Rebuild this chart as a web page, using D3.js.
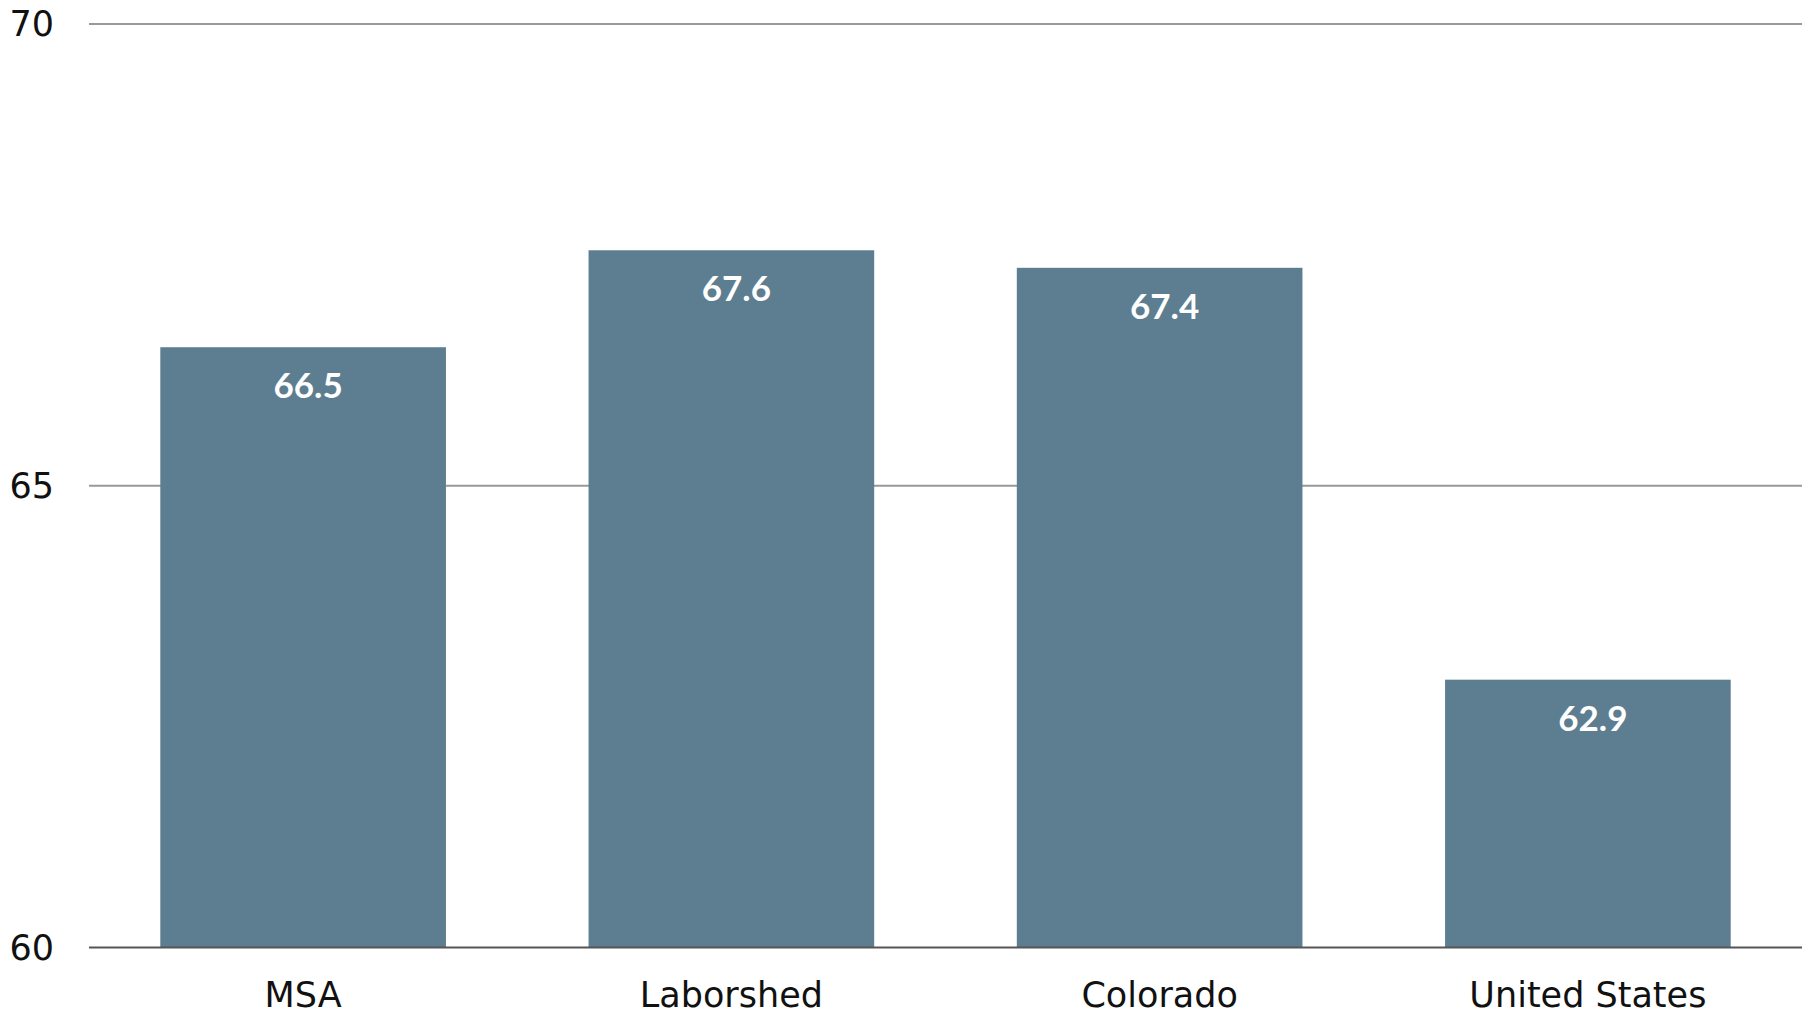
<!DOCTYPE html>
<html><head><meta charset="utf-8">
<script src="https://cdn.jsdelivr.net/npm/d3@7"></script>
<style>body{margin:0;background:#fff}svg{display:block}</style>
</head><body>
<svg id="c" width="1812" height="1014"></svg>
<script>
const categories = ["MSA", "Laborshed", "Colorado", "United States"];
const values = [66.5, 67.55, 67.36, 62.9];
const valueLabels = ["66.5", "67.6", "67.4", "62.9"];
const yTicks = [60, 65, 70];

(function () {
const svg = d3.select("#c");
const mL = 89, mR = 1802, mT = 24, mB = 947.5;
const x = d3.scaleBand().domain(categories).range([mL, mR]).paddingInner(0.333).paddingOuter(0.1665);
const y = d3.scaleLinear().domain([60, 70]).range([mB, mT]);

svg.append("g").selectAll("line").data(yTicks.filter(d => d !== 60)).join("line")
  .attr("x1", mL).attr("x2", mR)
  .attr("y1", d => y(d)).attr("y2", d => y(d))
  .attr("stroke", "#999").attr("stroke-width", 2);

svg.append("g").selectAll("rect").data(values).join("rect")
  .attr("x", (d, i) => x(categories[i]))
  .attr("width", x.bandwidth())
  .attr("y", d => y(d))
  .attr("height", d => y(60) - y(d))
  .attr("fill", "#5d7e90");

svg.append("line").attr("x1", mL).attr("x2", mR)
  .attr("y1", y(60)).attr("y2", y(60))
  .attr("stroke", "#555").attr("stroke-width", 2);

svg.append("g").selectAll("text").data(values).join("text")
  .attr("x", (d, i) => x(categories[i]) + x.bandwidth() / 2 + 5)
  .attr("y", d => y(d) + 51)
  .attr("text-anchor", "middle")
  .attr("fill", "#fff")
  .attr("font-family", "Lato")
  .attr("font-weight", 700)
  .attr("font-size", 35)
  .text((d, i) => valueLabels[i]);

svg.append("g").selectAll("text").data(yTicks).join("text")
  .attr("x", 54).attr("y", d => y(d) + 12)
  .attr("text-anchor", "end")
  .attr("fill", "#111")
  .attr("font-family", "DejaVu Sans")
  .attr("font-size", 35)
  .text(d => d);

svg.append("g").selectAll("text").data(categories).join("text")
  .attr("x", d => x(d) + x.bandwidth() / 2)
  .attr("y", 1007)
  .attr("text-anchor", "middle")
  .attr("fill", "#111")
  .attr("font-family", "DejaVu Sans")
  .attr("font-size", 35)
  .text(d => d);
})();
</script>
</body></html>
